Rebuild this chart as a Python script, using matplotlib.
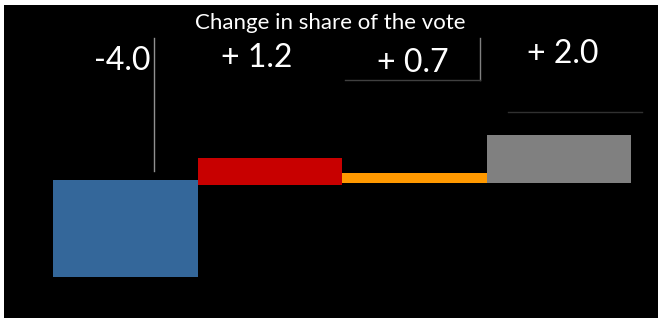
import matplotlib.pyplot as plt
from matplotlib.patches import Rectangle

# Values
parties = ["A", "B", "C", "D"]
bar_bottom = [-3.97, -0.12, -0.05, -0.05]
bar_top = [0.07, 1.0, 0.38, 1.95]
labels = ["-4.0", "+ 1.2", "+ 0.7", "+ 2.0"]
colors = ["#34679a", "#c80000", "#ff9900", "#808080"]
title = "Change in share of the vote"

plt.rcParams['font.family'] = ['Lato', 'DejaVu Sans']

fig = plt.figure(figsize=(6.6, 3.2), dpi=100, facecolor="white")
# black panel inside a thin white border
fig.patches.append(Rectangle((4 / 660, 2 / 320), 654 / 660, 313 / 320,
                             transform=fig.transFigure, facecolor="black",
                             edgecolor="none", zorder=-10))

ax = fig.add_axes([0, 0, 1, 1])
ax.set_facecolor("none")

x = list(range(len(parties)))
heights = [t - b for t, b in zip(bar_top, bar_bottom)]
ax.bar(x, heights, bottom=bar_bottom, width=1.0, color=colors, zorder=2)

# scale: 144.5 px per bar, 24 px per point of vote share
ax.set_xlim(-0.5 - 53 / 144.5, 3.5 + 29 / 144.5)
ax.set_ylim(-(320 - 182) / 24, 182 / 24)
ax.axis("off")

# labels above the bars
label_dx = [-0.02, -0.09, -0.01, 0.03]
label_y = [5.05, 5.15, 4.95, 5.35]
for xi, lab, dx, ly in zip(x, labels, label_dx, label_y):
    ax.text(xi + dx, ly, lab, color="white", fontsize=23,
            ha="center", va="center")

fig.text(0.5, 1 - 23 / 320, title, color="white", fontsize=16,
         ha="center", va="center")

# leftover text-box borders
def px(xp, yp):
    return xp / 660, 1 - yp / 320

def fline(x0, y0, x1, y1, color):
    (a, b), (c, d) = px(x0, y0), px(x1, y1)
    fig.add_artist(plt.Line2D([a, c], [b, d], color=color, lw=1.0))

fline(153.5, 38, 153.5, 171, "#909090")
fline(479.5, 38, 479.5, 80, "#808080")
fline(345, 80, 479.5, 80, "#404040")
fline(508, 112, 642, 112, "#303030")

fig.savefig("out.png", dpi=100, facecolor="white")
